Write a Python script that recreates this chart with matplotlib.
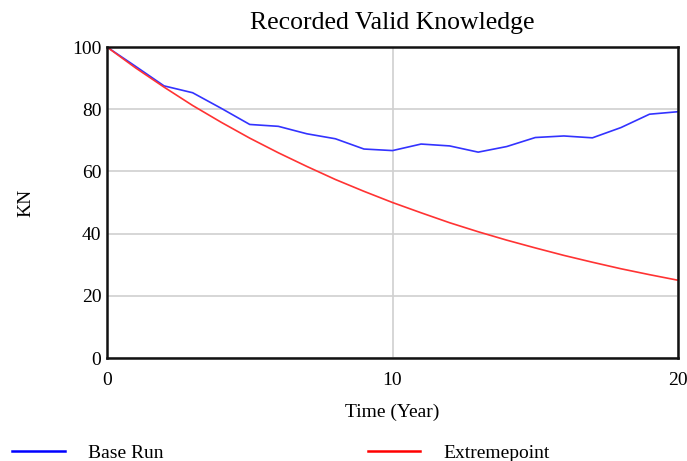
import numpy as np
import matplotlib
matplotlib.use('Agg')
from matplotlib import pyplot as plt
from matplotlib.lines import Line2D

# data
YEARS = list(range(0, 21))
BASE_RUN = [100, 93.8, 87.5, 85.3, 80.3, 75.1, 74.5, 72.1, 70.5, 67.2, 66.7,
            68.8, 68.2, 66.2, 68.0, 70.9, 71.4, 70.8, 74.1, 78.4, 79.2]
EXTREME = [100, 93.3, 87.1, 81.2, 75.8, 70.7, 66.0, 61.6, 57.4, 53.6, 50.0,
           46.7, 43.5, 40.6, 37.9, 35.4, 33.0, 30.8, 28.7, 26.8, 25.0]
XTICKS = [0, 10, 20]
YTICKS = [0, 20, 40, 60, 80, 100]

plt.rcParams['font.family'] = ['Liberation Serif', 'DejaVu Serif']
FS = 14

fig = plt.figure(figsize=(6.87, 4.61), dpi=100)
ax = fig.add_axes([0.1557, 0.2234, 0.8313, 0.6746])

ax.plot(YEARS, BASE_RUN, color='#3333ff', lw=1.2)
ax.plot(YEARS, EXTREME, color='#ff3333', lw=1.2)

ax.set_xlim(0, 20)
ax.set_ylim(0, 100)
ax.set_xticks(XTICKS)
ax.set_yticks(YTICKS)
ax.tick_params(length=0, labelsize=FS)
ax.tick_params(axis='x', pad=10)
ax.tick_params(axis='y', pad=4)
ax.grid(True, color='#d0d0d0', lw=1.2)
ax.set_axisbelow(True)
for s in ax.spines.values():
    s.set_linewidth(1.8)
    s.set_color('#111111')

ax.set_title('Recorded Valid Knowledge', fontsize=18.5, pad=13)
ax.set_xlabel('Time (Year)', fontsize=FS, labelpad=11)
ax.set_ylabel('KN', fontsize=FS, labelpad=27)

handles = [Line2D([], [], color='#0000ff', lw=1.8),
           Line2D([], [], color='#ff0000', lw=1.8)]
fig.legend(handles, ['Base Run', 'Extremepoint'], ncol=2, frameon=False,
           loc='lower left', bbox_to_anchor=(-0.008, -0.04), fontsize=FS,
           handlelength=2.7, handletextpad=1.2, columnspacing=10.5)

fig.savefig('out.png', dpi=100)
